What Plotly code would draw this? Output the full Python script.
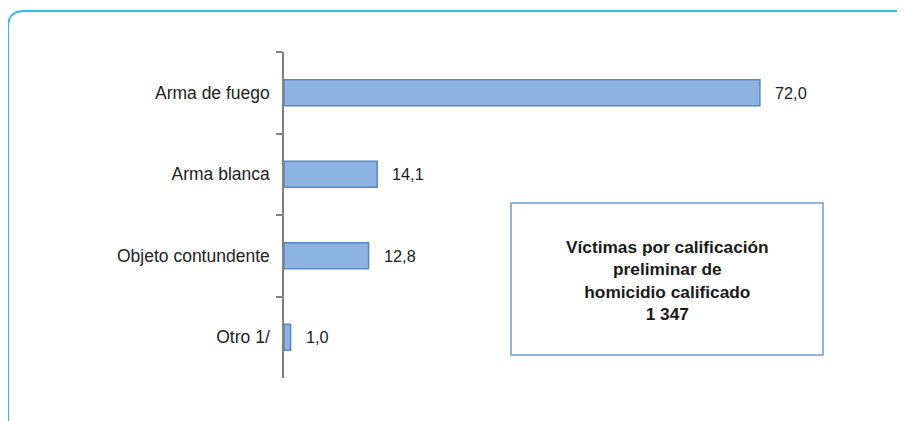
import plotly.graph_objects as go

categories = ["Arma de fuego", "Arma blanca", "Objeto contundente", "Otro 1/"]
values = [72.0, 14.1, 12.8, 1.0]
box_lines = ["Víctimas por calificación", "preliminar de", "homicidio calificado", "1 347"]

W, H = 905, 421
O = 8  # page offset of the figure (body margin)
# target plot area in page pixels
PL, PR, PT, PB = 284, 905, 52, 378
L, T = PL - O, PT - O
R = W - (PR - O)
B = H - (PB - O)
pw, ph = PR - PL, PB - PT

def px(x):
    return (x - PL) / pw

def py(y):
    return (PB - y) / ph

fig = go.Figure()
fig.add_trace(go.Bar(
    x=values, y=categories, orientation="h",
    marker=dict(color="#8DB3E2", line=dict(color="#5B87C2", width=1.5)),
    width=0.32, hoverinfo="skip",
))

for c, v in zip(categories, values):
    fig.add_annotation(x=v, y=c, xref="x", yref="y",
                       text=f"{v:.1f}".replace(".", ","), showarrow=False,
                       xanchor="left", xshift=13,
                       font=dict(family="Liberation Sans, Arial", size=16.3, color="#222222"))

# text box
fig.add_shape(type="rect", xref="paper", yref="paper",
              x0=px(511), x1=px(823), y0=py(355), y1=py(203),
              line=dict(color="#6F9BDB", width=1.5), fillcolor="white")
fig.add_annotation(xref="paper", yref="paper", x=px(667), y=py(280),
                   text="<br>".join(f"<b>{t}</b>" for t in box_lines),
                   showarrow=False, align="center", xanchor="center", yanchor="middle",
                   font=dict(family="Liberation Sans, Arial", size=17.3, color="#1a1a1a"))

# outer rounded frame
xl, yt, xr, yb = px(8), py(11), px(960), py(470)
rx, ry = 16 / pw, 16 / ph
path = (f"M {xl},{yb} L {xl},{yt - ry} Q {xl},{yt} {xl + rx},{yt} L {xr},{yt}")
fig.add_shape(type="path", xref="paper", yref="paper", path=path,
              line=dict(color="#3DB5EA", width=2))

fig.update_layout(
    width=W, height=H,
    margin=dict(l=L, r=R, t=T, b=B),
    paper_bgcolor="white", plot_bgcolor="white",
    showlegend=False,
    xaxis=dict(range=[0, pw / 6.61], visible=False),
    yaxis=dict(autorange=False, range=[3.5, -0.5], type="category",
               showline=True, linecolor="#808080", linewidth=1.5,
               ticks="outside", ticklen=6, tickcolor="#808080", tickwidth=1.5,
               tickson="boundaries", ticklabelstandoff=9,
               showgrid=False, zeroline=False,
               tickfont=dict(family="Liberation Sans, Arial", size=17.5, color="#222222")),
)

fig.write_html("out.html")
